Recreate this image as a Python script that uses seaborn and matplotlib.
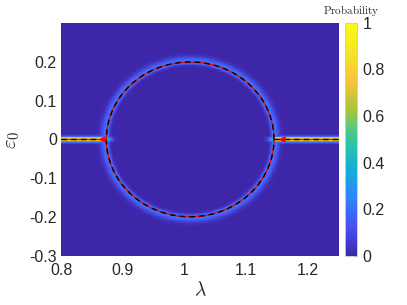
import numpy as np
import pandas as pd
import matplotlib
matplotlib.use("Agg")
import matplotlib.pyplot as plt
import seaborn as sns
from matplotlib.colors import LinearSegmentedColormap

# axis ranges and ticks
lam_range = [0.8, 1.25]
eps_range = [-0.3, 0.3]
x_ticks = [0.8, 0.9, 1.0, 1.1, 1.2]
x_tick_labels = ["0.8", "0.9", "1", "1.1", "1.2"]
y_ticks = [-0.3, -0.2, -0.1, 0.0, 0.1, 0.2]
y_tick_labels = ["-0.3", "-0.2", "-0.1", "0", "0.1", "0.2"]
cbar_ticks = [0, 0.2, 0.4, 0.6, 0.8, 1]
cbar_tick_labels = ["0", "0.2", "0.4", "0.6", "0.8", "1"]

# boundary: ellipse in (lambda, eps0)
circle_center = [1.009, 0.0]
circle_radii = [0.136, 0.2]
# horizontal branches at eps0 = 0
left_branch = [0.8, 0.873]
right_branch = [1.145, 1.25]
# peak probabilities
halo_peak = 0.22
branch_peak = 1.0
junction_peak = 0.4
# arrow heads (lambda, eps0)
arrow_lam = [0.866, 1.158]
arrow_eps = [0.0, 0.0]

# parula-like colormap
parula_pts = [0.0, 0.127, 0.254, 0.381, 0.508, 0.635, 0.762, 0.889, 1.0]
parula_rgb = [(0.2422, 0.1504, 0.6603), (0.2810, 0.3228, 0.9579),
              (0.1786, 0.5289, 0.9682), (0.0689, 0.6948, 0.8394),
              (0.2161, 0.7843, 0.5923), (0.6720, 0.7793, 0.2227),
              (0.9970, 0.7659, 0.2199), (0.9598, 0.9106, 0.1423),
              (0.9769, 0.9839, 0.0805)]
parula = LinearSegmentedColormap.from_list("parula", list(zip(parula_pts, parula_rgb)))

# probability grid
d_lam, d_eps = 0.001, 0.002
lam = np.round(np.arange(lam_range[0], lam_range[1] + d_lam / 2, d_lam), 4)
eps = np.round(np.arange(eps_range[1], eps_range[0] - d_eps / 2, -d_eps), 4)
L, E = np.meshgrid(lam, eps)

r = np.sqrt(((L - circle_center[0]) / circle_radii[0]) ** 2 + (E / circle_radii[1]) ** 2)
dr = r - 1
halo = halo_peak * np.where(dr > 0, np.exp(-(dr / 0.065) ** 2), np.exp(-(dr / 0.035) ** 2))
on_branch = (L <= left_branch[1]) | (L >= right_branch[0])
band = branch_peak * np.exp(-(E / 0.0062) ** 2) * on_branch
spot = junction_peak * (np.exp(-((L - left_branch[1]) / 0.009) ** 2 - (E / 0.007) ** 2)
                        + np.exp(-((L - right_branch[0]) / 0.009) ** 2 - (E / 0.007) ** 2))
prob = np.clip(np.maximum(np.maximum(halo, band), spot), 0, 1)
df = pd.DataFrame(prob, index=eps, columns=lam)


def xpos(v):
    return (np.asarray(v) - lam_range[0]) / d_lam + 0.5


def ypos(v):
    return (eps_range[1] - np.asarray(v)) / d_eps + 0.5


sns.set_style("white")
plt.rcParams["font.family"] = ["Liberation Sans", "DejaVu Sans"]
plt.rcParams["mathtext.fontset"] = "cm"

fig = plt.figure(figsize=(4.07, 3.05), dpi=100)
ax = fig.add_axes([0.150, 0.161, 0.683, 0.764])
cax = fig.add_axes([0.848, 0.161, 0.0295, 0.764])

sns.heatmap(df, ax=ax, cbar_ax=cax, cmap=parula, vmin=0, vmax=1,
            xticklabels=False, yticklabels=False, rasterized=True)

# boundary curves: red solid with black dashes on top
t = np.linspace(0, 2 * np.pi, 400)
cx = circle_center[0] + circle_radii[0] * np.cos(t)
cy = circle_center[1] + circle_radii[1] * np.sin(t)
for xs, ys in [(cx, cy), (left_branch, [0, 0]), (right_branch, [0, 0])]:
    ax.plot(xpos(xs), ypos(ys), color="red", lw=1.0)
    ax.plot(xpos(xs), ypos(ys), color="black", lw=1.0, dashes=(4, 3))
ax.plot(xpos(arrow_lam), ypos(arrow_eps), ls="none", marker="<",
        color="red", ms=3.5)

ax.set_xlim(0, len(lam))
ax.set_ylim(len(eps), 0)
ax.set_xticks(xpos(x_ticks))
ax.set_xticklabels(x_tick_labels, rotation=0)
ax.set_yticks(ypos(y_ticks))
ax.set_yticklabels(y_tick_labels, rotation=0)
ax.tick_params(length=0, labelsize=11.5, colors="#262626")
ax.tick_params(axis="x", pad=5)
ax.tick_params(axis="y", pad=3)
for s in ax.spines.values():
    s.set_visible(False)
ax.set_xlabel(r"$\lambda$", fontsize=14, labelpad=2)
ax.set_ylabel(r"$\varepsilon_0$", fontsize=15, labelpad=5)

cax.set_yticks(cbar_ticks)
cax.set_yticklabels(cbar_tick_labels)
cax.tick_params(labelsize=11.5, length=2, direction="in", pad=4, colors="#262626")
for s in cax.spines.values():
    s.set_visible(True)
    s.set_color("#cccccc")
    s.set_linewidth(0.5)
fig.text(0.862, 0.967, r"$\mathrm{Probability}$", fontsize=8, ha="center", va="center")

fig.savefig("out.png", dpi=100)
